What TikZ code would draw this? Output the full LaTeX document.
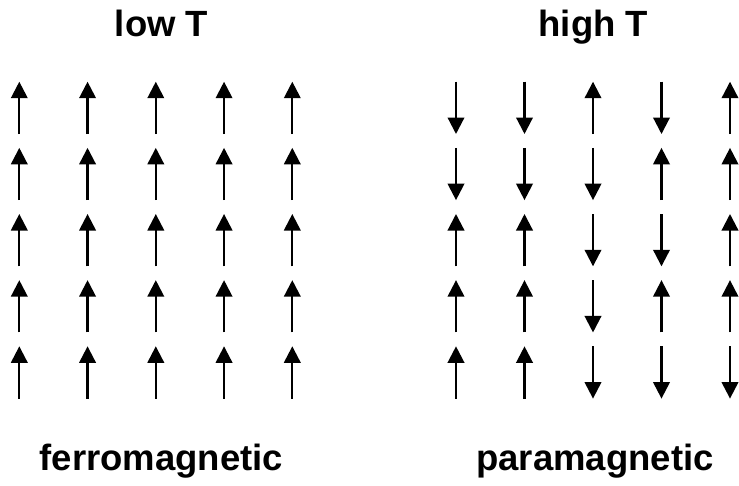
\documentclass[tikz,border=0pt]{standalone}
\usepackage{fontspec}
\setmainfont{Liberation Sans}
\usetikzlibrary{arrows.meta}
\begin{document}
\begin{tikzpicture}[x=1pt,y=-1pt,
  spin/.style={line width=2.2pt, -{Triangle[length=16.5pt,width=16.5pt]}},
  lbl/.style={font=\fontsize{36.5}{40}\selectfont\bfseries, inner sep=0pt, anchor=base}]
\useasboundingbox (0,0) rectangle (739,485);
\node[lbl] (lowT) at (161.5,36.7) {low T};
\node[lbl] (highT) at (593.3,36.7) {high T};
\node[lbl] (ferro) at (161.5,470) {ferromagnetic};
\node[lbl] (para) at (595,470) {paramagnetic};
% left grid: all up
\foreach \r in {0,...,4}{
  \foreach \c in {0,...,4}{
    \draw[spin] ({19.3+68.25*\c},{107.85+66.15*\r+26.15}) -- ({19.3+68.25*\c},{107.85+66.15*\r-26.15});
  }
}
% right grid: random
\foreach \row [count=\r from 0] in {{-1,-1,1,-1,1},{-1,-1,-1,1,1},{1,1,-1,-1,1},{1,1,-1,1,1},{1,1,-1,-1,-1}}{
  \foreach \d [count=\c from 0] in \row {
    \draw[spin] ({456+68.5*\c},{107.85+66.15*\r+26.15*\d}) -- ({456+68.5*\c},{107.85+66.15*\r-26.15*\d});
  }
}
\end{tikzpicture}
\end{document}
